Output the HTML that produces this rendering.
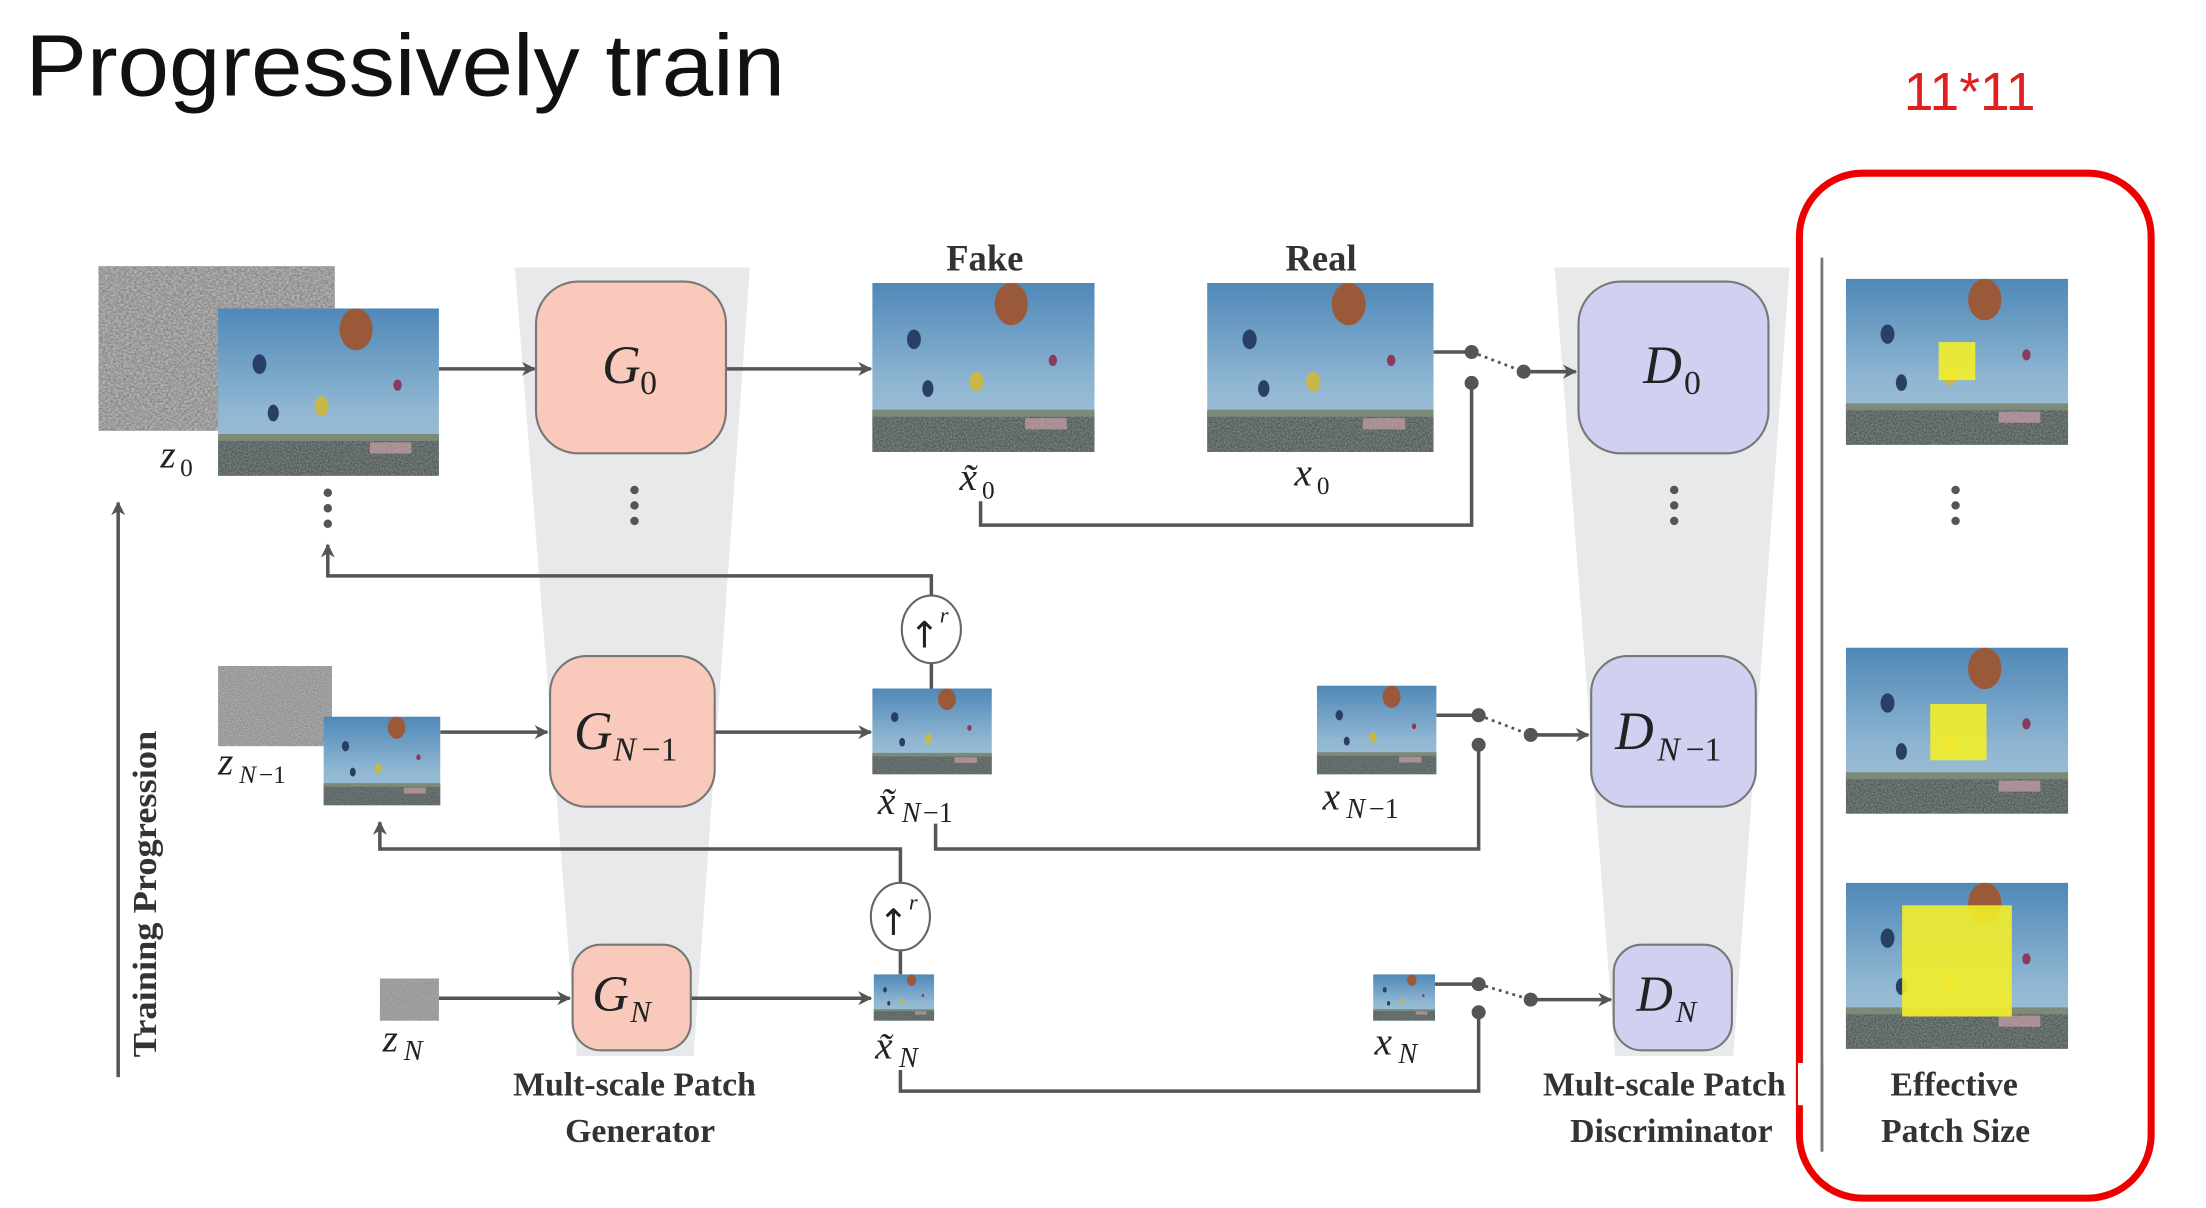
<!DOCTYPE html>
<html><head><meta charset="utf-8"><style>
html,body{margin:0;padding:0;background:#fff;}
svg{display:block;}
.m{font-family:"Liberation Serif",serif;font-style:italic;fill:#222;}
.b{font-family:"Liberation Serif",serif;font-weight:bold;fill:#333;}
</style></head><body>
<svg width="2206" height="1208" viewBox="0 0 1568 858" preserveAspectRatio="none" xmlns="http://www.w3.org/2000/svg">
<defs>
<filter id="nz" x="0" y="0" width="100%" height="100%">
<feTurbulence type="fractalNoise" baseFrequency="0.9" numOctaves="2" seed="3"/>
<feColorMatrix type="matrix" values="0 0 0 0 0.45  0 0 0 0 0.45  0 0 0 0 0.45  0 0 0 -2.2 1.6"/>
</filter>
<linearGradient id="sky" x1="0" y1="0" x2="0" y2="1">
<stop offset="0" stop-color="#4f88b8"/><stop offset="0.6" stop-color="#8fb6d2"/><stop offset="1" stop-color="#a8c4d6"/>
</linearGradient>
<symbol id="photo" viewBox="0 0 160 120" preserveAspectRatio="none">
<rect width="160" height="120" fill="url(#sky)"/>
<rect y="92" width="160" height="28" fill="#4e5a58"/>
<rect y="92" width="160" height="28" filter="url(#nz)" opacity="0.45"/>
<rect y="90" width="160" height="5" fill="#7c8a78"/>
<rect x="110" y="96" width="30" height="8" fill="#c9a0a8" opacity="0.7"/>
<ellipse cx="100" cy="15" rx="12" ry="15" fill="#9a5a3a"/>
<ellipse cx="30" cy="40" rx="5" ry="7" fill="#2a3f66"/>
<ellipse cx="75" cy="70" rx="5" ry="7" fill="#c8b848"/>
<ellipse cx="40" cy="75" rx="4" ry="6" fill="#2a3f66"/>
<ellipse cx="130" cy="55" rx="3" ry="4" fill="#8a3a5a"/>
</symbol>
<symbol id="noise" viewBox="0 0 100 100" preserveAspectRatio="none">
<rect width="100" height="100" fill="#888"/>
<rect width="100" height="100" filter="url(#nz)"/>
</symbol>
<marker id="ar" markerWidth="10" markerHeight="10" refX="9" refY="5" orient="auto" markerUnits="userSpaceOnUse">
<path d="M0,0 L10,5 L0,10 L3,5 Z" fill="#555"/>
</marker>
</defs>

<text x="18" y="68" font-family="Liberation Sans, sans-serif" font-size="62" fill="#111" textLength="540" lengthAdjust="spacingAndGlyphs">Progressively train</text>
<text x="1400" y="78" text-anchor="middle" font-family="Liberation Sans, sans-serif" font-size="38" fill="#e02020">11*11</text>
<rect x="1279" y="123" width="250" height="728" rx="45" fill="none" stroke="#e00" stroke-width="5"/>
<line x1="1295" y1="183" x2="1295" y2="818" stroke="#777" stroke-width="2"/>

<polygon points="366,190 533,190 493,750 410,750" fill="#e8e9eb"/>
<polygon points="1105,190 1272,190 1232,750 1148,750" fill="#e8e9eb"/>

<g stroke="#555" stroke-width="2.5" fill="none">
<line x1="312" y1="262" x2="380" y2="262" marker-end="url(#ar)"/>
<line x1="516" y1="262" x2="619" y2="262" marker-end="url(#ar)"/>
<line x1="313" y1="520" x2="389" y2="520" marker-end="url(#ar)"/>
<line x1="508" y1="520" x2="619" y2="520" marker-end="url(#ar)"/>
<line x1="312" y1="709" x2="405" y2="709" marker-end="url(#ar)"/>
<line x1="491" y1="709" x2="619" y2="709" marker-end="url(#ar)"/>
<polyline points="1046,272 1046,373 697,373 697,356"/>
<polyline points="1051,529 1051,603 665,603 665,585"/>
<polyline points="1051,719 1051,775 640,775 640,760"/>
<polyline points="662,423 662,409 233,409 233,387" marker-end="url(#ar)"/>
<polyline points="640,627 640,603 270,603 270,584" marker-end="url(#ar)"/>
<line x1="662" y1="471" x2="662" y2="490"/>
<line x1="640" y1="675" x2="640" y2="692"/>
<line x1="1019" y1="250" x2="1046" y2="250"/>
<line x1="1021" y1="508" x2="1051" y2="508"/>
<line x1="1020" y1="699" x2="1051" y2="699"/>
<line x1="1083" y1="264" x2="1120" y2="264" marker-end="url(#ar)"/>
<line x1="1088" y1="522" x2="1129" y2="522" marker-end="url(#ar)"/>
<line x1="1088" y1="710" x2="1145" y2="710" marker-end="url(#ar)"/>
<line x1="84" y1="765" x2="84" y2="357" marker-end="url(#ar)"/>
</g>
<g stroke="#555" stroke-width="2" stroke-dasharray="2,3">
<line x1="1046" y1="250" x2="1083" y2="264"/>
<line x1="1051" y1="508" x2="1088" y2="522"/>
<line x1="1051" y1="699" x2="1088" y2="710"/>
</g>
<g fill="#555">
<circle cx="1046" cy="250" r="5"/><circle cx="1046" cy="272" r="5"/><circle cx="1083" cy="264" r="5"/>
<circle cx="1051" cy="508" r="5"/><circle cx="1051" cy="529" r="5"/><circle cx="1088" cy="522" r="5"/>
<circle cx="1051" cy="699" r="5"/><circle cx="1051" cy="719" r="5"/><circle cx="1088" cy="710" r="5"/>
<circle cx="233" cy="350" r="3"/><circle cx="233" cy="361" r="3"/><circle cx="233" cy="372" r="3"/>
<circle cx="451" cy="348" r="3"/><circle cx="451" cy="359" r="3"/><circle cx="451" cy="370" r="3"/>
<circle cx="1190" cy="348" r="3"/><circle cx="1190" cy="359" r="3"/><circle cx="1190" cy="370" r="3"/>
<circle cx="1390" cy="348" r="3"/><circle cx="1390" cy="359" r="3"/><circle cx="1390" cy="370" r="3"/>
</g>

<g fill="#fff" stroke="#666" stroke-width="1.5">
<ellipse cx="662" cy="447" rx="21" ry="24"/>
<ellipse cx="640" cy="651" rx="21" ry="24"/>
</g>
<text x="657" y="460" font-family="DejaVu Sans,sans-serif" font-size="26" fill="#222" text-anchor="middle">↑</text><text x="668" y="442" class="m" font-size="16">r</text>
<text x="635" y="664" font-family="DejaVu Sans,sans-serif" font-size="26" fill="#222" text-anchor="middle">↑</text><text x="646" y="646" class="m" font-size="16">r</text>

<g stroke="#777" stroke-width="1.5">
<rect x="381" y="200" width="135" height="122" rx="30" fill="#f9c9bc"/>
<rect x="391" y="466" width="117" height="107" rx="26" fill="#f9c9bc"/>
<rect x="407" y="671" width="84" height="75" rx="20" fill="#f9c9bc"/>
<rect x="1122" y="200" width="135" height="122" rx="30" fill="#d0d0f0"/>
<rect x="1131" y="466" width="117" height="107" rx="26" fill="#d0d0f0"/>
<rect x="1147" y="671" width="84" height="75" rx="20" fill="#d0d0f0"/>
</g>
<text x="428" y="272" class="m" font-size="38">G</text><text x="455" y="280" font-family="Liberation Serif,serif" font-size="24" fill="#222">0</text>
<text x="408" y="532" class="m" font-size="38">G</text><text x="436" y="540" class="m" font-size="24">N</text><text x="456" y="540" font-family="Liberation Serif,serif" font-size="24" fill="#222">−1</text>
<text x="421" y="718" class="m" font-size="36">G</text><text x="448" y="726" class="m" font-size="22">N</text>
<text x="1168" y="272" class="m" font-size="38">D</text><text x="1197" y="280" font-family="Liberation Serif,serif" font-size="24" fill="#222">0</text>
<text x="1148" y="532" class="m" font-size="38">D</text><text x="1178" y="540" class="m" font-size="24">N</text><text x="1198" y="540" font-family="Liberation Serif,serif" font-size="24" fill="#222">−1</text>
<text x="1163" y="718" class="m" font-size="36">D</text><text x="1191" y="726" class="m" font-size="22">N</text>

<use href="#noise" x="70" y="189" width="168" height="117"/>
<use href="#photo" x="155" y="219" width="157" height="119"/>
<use href="#noise" x="155" y="473" width="81" height="57"/>
<use href="#photo" x="230" y="509" width="83" height="63"/>
<use href="#noise" x="270" y="695" width="42" height="30"/>
<use href="#photo" x="620" y="201" width="158" height="120"/>
<use href="#photo" x="858" y="201" width="161" height="120"/>
<use href="#photo" x="620" y="489" width="85" height="61"/>
<use href="#photo" x="936" y="487" width="85" height="63"/>
<use href="#photo" x="621" y="692" width="43" height="33"/>
<use href="#photo" x="976" y="692" width="44" height="33"/>
<use href="#photo" x="1312" y="198" width="158" height="118"/>
<use href="#photo" x="1312" y="460" width="158" height="118"/>
<use href="#photo" x="1312" y="627" width="158" height="118"/>
<rect x="1378" y="243" width="26" height="27" fill="#f3ee2a" opacity="0.9"/>
<rect x="1372" y="500" width="40" height="40" fill="#f3ee2a" opacity="0.9"/>
<rect x="1352" y="643" width="78" height="79" fill="#f3ee2a" opacity="0.9"/>

<text x="700" y="192" text-anchor="middle" class="b" font-size="26">Fake</text>
<text x="939" y="192" text-anchor="middle" class="b" font-size="26">Real</text>
<text x="114" y="332" class="m" font-size="28">z</text><text x="128" y="338" font-family="Liberation Serif,serif" font-size="18" fill="#222">0</text>
<text x="682" y="348" class="m" font-size="28">x̃</text><text x="698" y="354" font-family="Liberation Serif,serif" font-size="18" fill="#222">0</text>
<text x="920" y="345" class="m" font-size="28">x</text><text x="936" y="351" font-family="Liberation Serif,serif" font-size="18" fill="#222">0</text>
<text x="155" y="550" class="m" font-size="28">z</text><text x="170" y="556" class="m" font-size="18">N</text><text x="184" y="556" font-family="Liberation Serif,serif" font-size="18" fill="#222">−1</text>
<text x="624" y="578" class="m" font-size="28">x̃</text><text x="641" y="584" class="m" font-size="20">N</text><text x="656" y="584" font-family="Liberation Serif,serif" font-size="20" fill="#222">−1</text>
<text x="940" y="575" class="m" font-size="28">x</text><text x="957" y="581" class="m" font-size="20">N</text><text x="973" y="581" font-family="Liberation Serif,serif" font-size="20" fill="#222">−1</text>
<text x="272" y="747" class="m" font-size="28">z</text><text x="287" y="753" class="m" font-size="20">N</text>
<text x="622" y="752" class="m" font-size="28">x̃</text><text x="639" y="758" class="m" font-size="20">N</text>
<text x="977" y="749" class="m" font-size="28">x</text><text x="994" y="755" class="m" font-size="20">N</text>
<text transform="translate(111,635) rotate(-90)" text-anchor="middle" class="b" font-size="24" textLength="232" lengthAdjust="spacingAndGlyphs">Training Progression</text>
<text x="451" y="778" text-anchor="middle" class="b" font-size="24">Mult-scale Patch</text>
<text x="455" y="811" text-anchor="middle" class="b" font-size="24">Generator</text>
<text x="1183" y="778" text-anchor="middle" class="b" font-size="24">Mult-scale Patch</text>
<text x="1188" y="811" text-anchor="middle" class="b" font-size="24">Discriminator</text>
<rect x="1278" y="755" width="14" height="30" fill="#fff"/>
<line x1="1295" y1="755" x2="1295" y2="818" stroke="#777" stroke-width="2"/>
<text x="1389" y="778" text-anchor="middle" class="b" font-size="24">Effective</text>
<text x="1390" y="811" text-anchor="middle" class="b" font-size="24">Patch Size</text>
</svg>
</body></html>
